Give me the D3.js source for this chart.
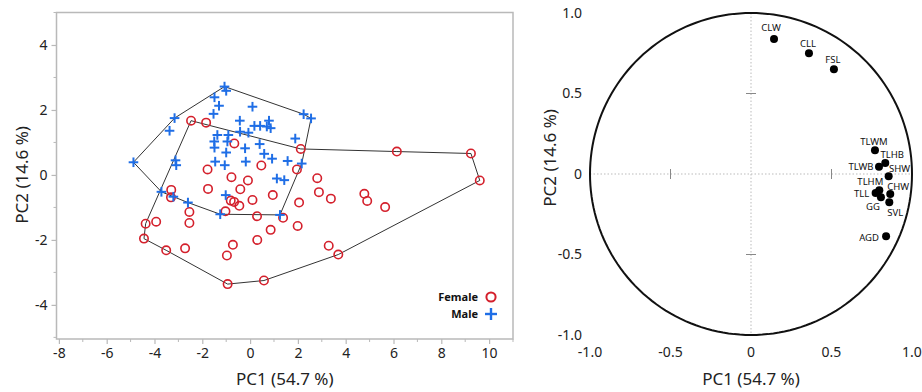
<!DOCTYPE html>
<html><head><meta charset="utf-8">
<script src="https://cdn.jsdelivr.net/npm/d3@7"></script>
<style>body{margin:0;background:#fff}svg{display:block}</style>
</head><body>
<svg id="c" width="922" height="392"></svg>
<script>
// ---------- DATA ----------
const femaleX = [-2.47,-1.84,-0.66,0.47,-1.78,-0.78,-0.09,-3.30,-3.31,-1.76,-0.41,0.95,-0.81,-0.67,-0.45,0.10,-2.54,-1.03,0.29,-4.37,-3.93,-2.54,0.86,-4.44,-0.72,0.30,-3.51,-2.72,-0.97,-0.94,0.58,2.12,6.14,1.96,2.81,2.88,3.38,4.78,4.90,5.65,2.05,1.38,1.99,3.29,9.24,9.61,3.69];
const femaleY = [1.67,1.61,0.97,0.29,0.17,-0.07,-0.17,-0.46,-0.69,-0.43,-0.44,-0.62,-0.79,-0.83,-0.95,-0.77,-1.14,-1.12,-1.27,-1.50,-1.44,-1.48,-1.69,-1.96,-2.15,-2.00,-2.32,-2.26,-2.48,-3.36,-3.25,0.80,0.72,0.17,-0.10,-0.53,-0.73,-0.58,-0.80,-0.99,-0.85,-1.32,-1.57,-2.18,0.66,-0.17,-2.45];
const maleX = [-1.07,-1.00,-1.49,-1.30,0.10,-1.53,-3.16,-3.37,-0.43,0.18,0.42,0.79,0.70,0.86,-0.42,-0.07,-1.37,-0.91,-1.50,-1.49,-0.95,-0.21,0.40,-1.00,0.59,0.92,-1.46,-1.06,-0.18,-4.88,-3.12,-3.09,1.12,1.43,2.24,2.55,1.89,1.57,2.16,1.25,-3.71,-3.21,-2.60,-1.02,-1.25];
const maleY = [2.72,2.59,2.39,2.13,2.10,1.88,1.75,1.36,1.67,1.51,1.51,1.67,1.49,1.44,1.33,1.30,1.23,1.23,1.03,0.84,1.03,0.82,0.95,0.69,0.65,0.50,0.41,0.30,0.41,0.39,0.45,0.30,-0.11,-0.16,1.87,1.74,1.12,0.43,0.35,-1.23,-0.52,-0.67,-0.85,-0.62,-1.21];
// outline polygons (indices into the point arrays above)
const femaleHull = [0,31,32,44,45,46,30,29,26,23,19];
const maleHull = [0,34,35,38,39,44,42,40,29,6];
const scoreXTicks = [-8,-6,-4,-2,0,2,4,6,8,10];
const scoreYTicks = [-4,-2,0,2,4];
const legendLabels = ["Female","Male"];

const loadingNames = ["CLW","CLL","FSL","TLWM","TLHB","TLWB","SHW","TLHM","CHW","TLL","GG","SVL","AGD"];
const loadingPC1 = [0.143,0.36,0.515,0.770,0.834,0.795,0.855,0.797,0.865,0.774,0.807,0.859,0.839];
const loadingPC2 = [0.839,0.75,0.65,0.147,0.068,0.045,-0.014,-0.101,-0.124,-0.118,-0.145,-0.176,-0.387];
const loadTicks = [-1.0,-0.5,0,0.5,1.0];
const xTitle = "PC1 (54.7 %)";
const yTitle = "PC2 (14.6 %)";

// ---------- DRAW ----------
const svg = d3.select("#c");
const FONT = "'Noto Sans', 'Open Sans', sans-serif";
const RED = "#d4202c", BLUE = "#1f6ee6", FRAME = "#b9b9b9";
const intFmt = d => String(d);
const decFmt = d => d === 0 ? "0" : d.toFixed(1);

// Left panel: scores
const x = d3.scaleLinear().domain([-8.1, 11]).range([56.5, 513]);
const y = d3.scaleLinear().domain([-5.05, 5]).range([339, 12.5]);
const L = svg.append("g");

L.append("rect").attr("x", x(-8.1)).attr("y", y(5)).attr("width", x(11)-x(-8.1)).attr("height", y(-5.05)-y(5))
  .attr("fill","none").attr("stroke",FRAME).attr("stroke-width",1.5);

const xAxis = d3.axisBottom(x).tickValues(scoreXTicks).tickSize(5).tickPadding(4).tickFormat(intFmt);
const gx = L.append("g").attr("transform",`translate(0,${y(-5.05)})`).call(xAxis);
const yAxis = d3.axisLeft(y).tickValues(scoreYTicks).tickSize(5).tickPadding(4).tickFormat(intFmt);
const gy = L.append("g").attr("transform",`translate(${x(-8.1)},0)`).call(yAxis);
[gx,gy].forEach(g=>{
  g.select(".domain").remove();
  g.selectAll(".tick line").attr("stroke",FRAME).attr("stroke-width",1.2);
  g.selectAll(".tick text").attr("fill","#222").style("font-family",FONT).style("font-size","14px");
});
L.append("g").selectAll("line").data(d3.range(-7, 12, 2)).join("line")
  .attr("x1",d=>x(d)).attr("x2",d=>x(d)).attr("y1",y(-5.05)).attr("y2",y(-5.05)+3)
  .attr("stroke",FRAME).attr("stroke-width",1);
L.append("g").selectAll("line").data(d3.range(-5, 6, 2)).join("line")
  .attr("y1",d=>y(d)).attr("y2",d=>y(d)).attr("x1",x(-8.1)).attr("x2",x(-8.1)-3)
  .attr("stroke",FRAME).attr("stroke-width",1);

L.append("text").attr("x",(x(-8.1)+x(11))/2).attr("y",385).attr("text-anchor","middle")
  .style("font-family",FONT).style("font-size","17px").attr("fill","#222").text(xTitle);
L.append("text").attr("transform",`translate(28,${y(0)}) rotate(-90)`).attr("text-anchor","middle")
  .style("font-family",FONT).style("font-size","17px").attr("fill","#222").text(yTitle);

const line = d3.line().x(d=>x(d[0])).y(d=>y(d[1])).curve(d3.curveLinearClosed);
L.append("path").attr("d", line(femaleHull.map(i=>[femaleX[i],femaleY[i]])))
  .attr("fill","none").attr("stroke","#333").attr("stroke-width",1);
L.append("path").attr("d", line(maleHull.map(i=>[maleX[i],maleY[i]])))
  .attr("fill","none").attr("stroke","#333").attr("stroke-width",1);

L.append("g").selectAll("circle").data(femaleX.map((v,i)=>[v,femaleY[i]])).join("circle")
  .attr("cx",d=>x(d[0])).attr("cy",d=>y(d[1])).attr("r",4.2)
  .attr("fill","none").attr("stroke",RED).attr("stroke-width",1.6);
const drawPlus = (g, cx, cy, s) => {
  g.append("line").attr("x1",cx-s).attr("x2",cx+s).attr("y1",cy).attr("y2",cy);
  g.append("line").attr("x1",cx).attr("x2",cx).attr("y1",cy-s).attr("y2",cy+s);
};
const mg = L.append("g").attr("stroke",BLUE).attr("stroke-width",2);
maleX.forEach((v,i)=>drawPlus(mg, x(v), y(maleY[i]), 4.8));

const lg = L.append("g");
lg.append("text").attr("x",478).attr("y",297).attr("dy","0.35em").attr("text-anchor","end")
  .style("font-family",FONT).style("font-size","11px").style("font-weight","bold").attr("fill","#111").text(legendLabels[0]);
lg.append("circle").attr("cx",491).attr("cy",297).attr("r",4.6).attr("fill","none").attr("stroke",RED).attr("stroke-width",2);
lg.append("text").attr("x",478).attr("y",314).attr("dy","0.35em").attr("text-anchor","end")
  .style("font-family",FONT).style("font-size","11px").style("font-weight","bold").attr("fill","#111").text(legendLabels[1]);
const lgp = lg.append("g").attr("stroke",BLUE).attr("stroke-width",2.4);
drawPlus(lgp, 491, 314, 6);

// Right panel: loadings
const rx = d3.scaleLinear().domain([-1,1]).range([590, 912]);
const ry = d3.scaleLinear().domain([-1,1]).range([335, 13]);
const R = svg.append("g");

R.append("line").attr("x1",rx(-1)).attr("x2",rx(1)).attr("y1",ry(0)).attr("y2",ry(0))
  .attr("stroke","#bbb").attr("stroke-width",1).attr("stroke-dasharray","1.5,2");
R.append("line").attr("x1",rx(0)).attr("x2",rx(0)).attr("y1",ry(1)).attr("y2",ry(-1))
  .attr("stroke","#bbb").attr("stroke-width",1).attr("stroke-dasharray","1.5,2");
R.append("g").selectAll("line").data([-0.5,0.5]).join("line")
  .attr("x1",d=>rx(d)).attr("x2",d=>rx(d)).attr("y1",ry(0)-5).attr("y2",ry(0)+5)
  .attr("stroke","#888").attr("stroke-width",1);
R.append("g").selectAll("line").data([-0.5,0.5]).join("line")
  .attr("y1",d=>ry(d)).attr("y2",d=>ry(d)).attr("x1",rx(0)-5).attr("x2",rx(0)+5)
  .attr("stroke","#888").attr("stroke-width",1);

const circ = d3.range(0, 361, 2).map(a=>[Math.cos(a*Math.PI/180), Math.sin(a*Math.PI/180)]);
R.append("path").attr("d", d3.line().x(d=>rx(d[0])).y(d=>ry(d[1]))(circ))
  .attr("fill","none").attr("stroke","#111").attr("stroke-width",2);

R.append("g").selectAll("text").data(loadTicks).join("text")
  .attr("x",d=>rx(d)).attr("y",352).attr("dy","0.35em").attr("text-anchor","middle")
  .style("font-family",FONT).style("font-size","14px").attr("fill","#222").text(decFmt);
R.append("g").selectAll("text").data(loadTicks).join("text")
  .attr("x",582).attr("y",d=>ry(d)).attr("dy","0.35em").attr("text-anchor","end")
  .style("font-family",FONT).style("font-size","14px").attr("fill","#222").text(decFmt);

R.append("text").attr("x",rx(0)).attr("y",385).attr("text-anchor","middle")
  .style("font-family",FONT).style("font-size","17px").attr("fill","#222").text(xTitle);
R.append("text").attr("transform",`translate(556,${ry(0.1)}) rotate(-90)`).attr("text-anchor","middle")
  .style("font-family",FONT).style("font-size","17px").attr("fill","#222").text(yTitle);

const labelOffset = {CLW:[-3,-11],CLL:[-1,-10],FSL:[-1,-10],TLWM:[-1,-9],TLHB:[7,-8],TLWB:[-18,0],
  SHW:[11,-8],TLHM:[-9,-9],CHW:[8,-7],TLL:[-14,1],GG:[-8,9],SVL:[6,10],AGD:[-17,1]};
const ld = loadingNames.map((n,i)=>({n, v1:loadingPC1[i], v2:loadingPC2[i]}));
R.append("g").selectAll("circle").data(ld).join("circle")
  .attr("cx",d=>rx(d.v1)).attr("cy",d=>ry(d.v2)).attr("r",4).attr("fill","#000");
R.append("g").selectAll("text").data(ld).join("text")
  .attr("x",d=>rx(d.v1)+labelOffset[d.n][0]).attr("y",d=>ry(d.v2)+labelOffset[d.n][1]).attr("dy","0.35em")
  .attr("text-anchor","middle").style("font-family",FONT).style("font-size","9.5px").attr("fill","#111")
  .text(d=>d.n);
</script>
</body></html>
